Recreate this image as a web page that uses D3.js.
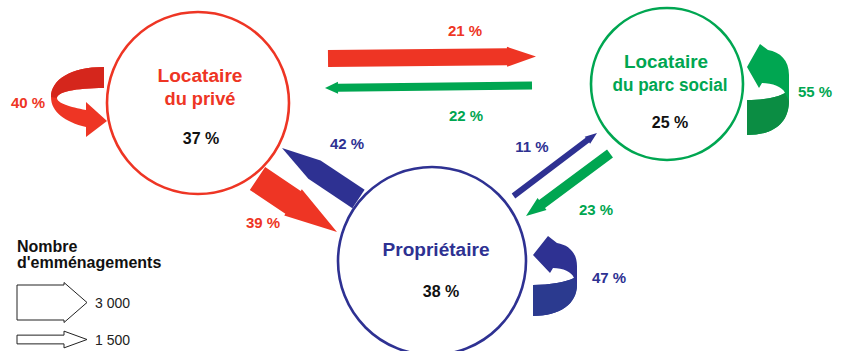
<!DOCTYPE html>
<html><head><meta charset="utf-8">
<script src="https://cdn.jsdelivr.net/npm/d3@7/dist/d3.min.js"></script>
<style>
html,body{margin:0;padding:0;background:#fff;}
svg{display:block;}
</style></head>
<body>
<svg id="chart" width="843" height="351"></svg>
<script>
// ---------- DATA ----------
const nodeIds = ["prive", "social", "proprio"];
const nodeLines = [["Locataire", "du privé"], ["Locataire", "du parc social"], ["Propriétaire"]];
const nodeShares = ["37 %", "25 %", "38 %"];
const flowIds = ["prive-social", "social-prive", "proprio-prive", "prive-proprio", "proprio-social", "social-proprio"];
const flowPct = ["21 %", "22 %", "42 %", "39 %", "11 %", "23 %"];
const flowCount = [2090, 1430, 2380, 2660, 1240, 1600];   // estimated number of moves
const loopIds = ["prive", "social", "proprio"];
const loopPct = ["40 %", "55 %", "47 %"];
const loopCount = [2320, 3000, 2820];
const legendTitle = ["Nombre", "d'emménagements"];
const legendValues = [3000, 1500];
const legendLabels = ["3 000", "1 500"];

// ---------- STYLE / LAYOUT ----------
const FONT = "'Liberation Sans', Arial, sans-serif";
const NARROW = "'Liberation Sans Narrow', 'Arial Narrow', sans-serif";
const colors = {prive: "#EE3524", social: "#00A651", proprio: "#2E3192"};
const dark = {prive: "#D5261C", social: "#0B8D43", proprio: "#2B3A8F"};
const nodeLayout = {
  prive:   {cx: 198, cy: 103, r: 91, lines: [[2, -21, 85], [2, 2, 71]], share: [3, 41]},
  social:  {cx: 667, cy: 84,  r: 76, lines: [[-1, -16, 84], [3, 7, 115]], share: [3, 44]},
  proprio: {cx: 432, cy: 261, r: 94, lines: [[4, -5, 107]], share: [9, 36]}
};
const flowLayout = {
  "prive-social":  {from: [328, 58.5], to: [536, 56.5], hl: 29, extra: 3, color: "prive",   label: [465, 36]},
  "social-prive":  {from: [532, 85.5], to: [325, 88],   hl: 13, extra: 4, color: "social",  label: [466, 121]},
  "proprio-prive": {from: [358.5, 199], to: [282, 148], hl: 39, extra: 0, color: "proprio", label: [347, 149]},
  "prive-proprio": {from: [257.5, 178.5], to: [337, 232], hl: 53, extra: 4, color: "prive", label: [263, 228]},
  "proprio-social":{from: [513.5, 196], to: [597, 133], hl: 12, extra: 3, color: "proprio", label: [532, 152]},
  "social-proprio":{from: [610, 153.5], to: [526, 216], hl: 20, extra: 5, color: "social",  label: [596, 215]}
};
const loopLabel = {prive: [28, 108], social: [815, 97], proprio: [609, 283]};

const svg = d3.select("#chart");
const wScale = d3.scalePow().exponent(2).domain([0, 3000]).range([0, 35]);

function txt(sel, x, y, s, size, fill, opts = {}) {
  const t = sel.append("text").attr("x", x).attr("y", y).text(s)
    .style("font-family", opts.family || FONT)
    .style("font-weight", opts.weight || "bold")
    .style("font-size", size + "px").attr("fill", fill);
  if (opts.anchor) t.attr("text-anchor", opts.anchor);
  if (opts.len) t.attr("textLength", opts.len).attr("lengthAdjust", "spacingAndGlyphs");
  return t;
}

// ---------- NODES ----------
nodeIds.forEach((id, i) => {
  const L = nodeLayout[id];
  svg.append("circle").attr("cx", L.cx).attr("cy", L.cy).attr("r", L.r)
    .attr("fill", "none").attr("stroke", colors[id]).attr("stroke-width", 2.6);
  nodeLines[i].forEach((t, j) => {
    const o = L.lines[j];
    txt(svg, L.cx + o[0], L.cy + o[1], t, 17.5, colors[id], {anchor: "middle", len: o[2]});
  });
  txt(svg, L.cx + L.share[0], L.cy + L.share[1], nodeShares[i], 16, "#111", {anchor: "middle"});
});

// ---------- STRAIGHT ARROWS ----------
function arrowPts(x1, y1, x2, y2, w, hl, hw) {
  const dx = x2 - x1, dy = y2 - y1, len = Math.hypot(dx, dy);
  const ux = dx / len, uy = dy / len, nx = -uy, ny = ux;
  const bx = x2 - ux * hl, by = y2 - uy * hl;
  return [[x1 + nx * w / 2, y1 + ny * w / 2], [bx + nx * w / 2, by + ny * w / 2],
          [bx + nx * hw / 2, by + ny * hw / 2], [x2, y2],
          [bx - nx * hw / 2, by - ny * hw / 2], [bx - nx * w / 2, by - ny * w / 2],
          [x1 - nx * w / 2, y1 - ny * w / 2]];
}
const poly = d3.line().curve(d3.curveLinearClosed);

flowIds.forEach((id, i) => {
  const L = flowLayout[id];
  const w = wScale(flowCount[i]);
  svg.append("path")
    .attr("d", poly(arrowPts(L.from[0], L.from[1], L.to[0], L.to[1], w, L.hl, w + L.extra)))
    .attr("fill", colors[L.color]);
  txt(svg, L.label[0], L.label[1], flowPct[i], 15, colors[L.color], {anchor: "middle"});
});

// ---------- SELF LOOPS ----------
function loopPaths(id, t) {
  if (id === "prive") {
    const y0 = 67, yb = y0 + t;
    return {
      full: `M104,${y0} C70,${y0} 51,80 51,97 C51,112 65,122 86,127 L86,137 L107,121 L86,102 L86,110 C70,107 57,103 57,98 C57,92 75,${yb} 104,${yb} Z`,
      shade: `M104,${y0} C70,${y0} 51,80 51,97 L57,98 C57,92 75,${yb} 104,${yb} Z`
    };
  }
  if (id === "social") {
    const y0 = 100, yb = y0 + t;
    return {
      full: `M747,${y0} L747,${yb} C775,${yb} 789,122 789,100 L789,75 C789,60 780,52 768,50 L760,44 L747,67 L759,88 L762,83 C772,83 783,87 785,93 C778,97 765,${y0} 747,${y0} Z`,
      shade: `M747,${y0} L747,${yb} C775,${yb} 789,122 789,101 L785,93 C778,97 765,${y0} 747,${y0} Z`
    };
  }
  const y0 = 285, yb = y0 + t;
  return {
    full: `M533,${y0} L533,${yb} C560,${yb} 577,304 577,284 L577,266 C577,253 569,245 557,243 L548,236 L533,255 L550,273 L553,268 C563,268 572,272 574,278 C566,282 550,${y0} 533,${y0} Z`,
    shade: `M533,${y0} L533,${yb} C560,${yb} 577,304 577,285 L574,278 C566,282 550,${y0} 533,${y0} Z`
  };
}
loopIds.forEach((id, i) => {
  const p = loopPaths(id, wScale(loopCount[i]));
  svg.append("path").attr("d", p.full).attr("fill", colors[id]);
  svg.append("path").attr("d", p.shade).attr("fill", dark[id]);
  const l = loopLabel[id];
  txt(svg, l[0], l[1], loopPct[i], 15, colors[id], {anchor: "middle"});
});

// ---------- LEGEND ----------
const lg = svg.append("g");
legendTitle.forEach((t, j) => {
  txt(lg, 17, 252 + j * 15.5, t, 16, "#111", {family: NARROW});
});
const legendY = [302.5, 339.5];
legendValues.forEach((v, j) => {
  const w = wScale(v);
  const pts = arrowPts(17, legendY[j], 87, legendY[j], w, 23, w + 5 + (j ? 3 : 0));
  lg.append("path").attr("d", poly(pts)).attr("fill", "#fff")
    .attr("stroke", "#222").attr("stroke-width", 1);
  txt(lg, 95, legendY[j] + 5, legendLabels[j], 14, "#222", {weight: "normal"});
});
</script>
</body></html>
